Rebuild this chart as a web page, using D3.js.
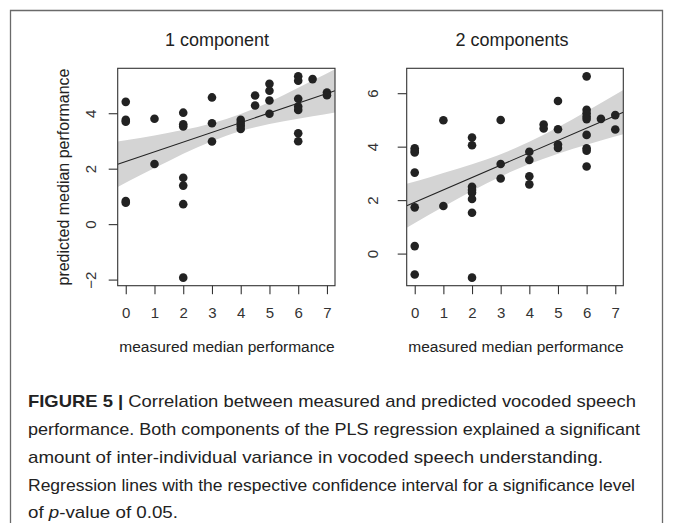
<!DOCTYPE html>
<html>
<head>
<meta charset="utf-8">
<script src="https://cdn.jsdelivr.net/npm/d3@7"></script>
<style>
  html, body { margin: 0; padding: 0; background: #fff; }
  svg { display: block; font-family: "Liberation Sans", Arial, sans-serif; }
</style>
</head>
<body>
<svg id="chart" width="673" height="523"></svg>
<script>
// ---------- data ----------
const xTicks = [0, 1, 2, 3, 4, 5, 6, 7];
const yTicks1 = [-2, 0, 2, 4];
const yTicks2 = [0, 2, 4, 6];

// Panel 1: "1 component" (measured, predicted)
const measured1  = [0, 0, 0, 0, 0,
                    1, 1,
                    2, 2, 2, 2, 2, 2, 2,
                    3, 3, 3,
                    4, 4, 4, 4,
                    4.5, 4.5,
                    5, 5, 5, 5,
                    6, 6, 6, 6, 6, 6, 6,
                    6.5,
                    7, 7];
const predicted1 = [4.41, 3.76, 3.69, 0.83, 0.77,
                    3.80, 2.17,
                    4.02, 3.60, 3.52, 1.67, 1.39, 0.72, -1.93,
                    4.57, 3.64, 2.98,
                    3.76, 3.65, 3.55, 3.43,
                    4.64, 4.28,
                    5.06, 4.81, 4.46, 3.98,
                    5.33, 5.17, 4.52, 4.24, 4.12, 3.28, 2.99,
                    5.23,
                    4.75, 4.65];
const fitLine1 = { x: [-0.28, 7.28], y: [2.16, 4.81] };
const bandX1     = [-0.28, 0.5, 1.5, 2.5, 3.5, 4.5, 5.5, 6.5, 7.28];
const bandUpper1 = [2.98, 3.11, 3.30, 3.50, 3.79, 4.18, 4.66, 5.18, 5.59];
const bandLower1 = [1.34, 1.76, 2.28, 2.77, 3.19, 3.49, 3.71, 3.89, 4.03];

// Panel 2: "2 components"
const measured2  = [0, 0, 0, 0, 0, 0, 0,
                    1, 1,
                    2, 2, 2, 2, 2, 2, 2, 2,
                    3, 3, 3,
                    4, 4, 4, 4,
                    4.5, 4.5,
                    5, 5, 5, 5,
                    6, 6, 6, 6, 6, 6, 6, 6, 6,
                    6.5,
                    7, 7];
const predicted2 = [3.94, 3.85, 3.78, 3.03, 1.73, 0.28, -0.78,
                    4.99, 1.78,
                    4.34, 4.05, 2.50, 2.38, 2.28, 2.04, 1.53, -0.90,
                    5.00, 3.35, 2.81,
                    3.81, 3.50, 2.89, 2.59,
                    4.83, 4.68,
                    5.71, 4.65, 4.08, 3.95,
                    6.63, 5.38, 5.25, 5.13, 5.03, 4.44, 3.94, 3.85, 3.26,
                    5.04,
                    5.18, 4.64];
const fitLine2 = { x: [-0.28, 7.28], y: [1.79, 5.29] };
const bandX2     = [-0.28, 0.5, 1.5, 2.5, 3.5, 4.5, 5.5, 6.5, 7.28];
const bandUpper2 = [2.61, 2.85, 3.17, 3.52, 3.94, 4.45, 5.02, 5.63, 6.12];
const bandLower2 = [0.97, 1.45, 2.05, 2.62, 3.13, 3.55, 3.91, 4.23, 4.46];

const titles = ["1 component", "2 components"];
const xTitle = "measured median performance";
const yTitle = "predicted median performance";
const captionBold = "FIGURE 5 |";
const captionLines = [
  " Correlation between measured and predicted vocoded speech",
  "performance. Both components of the PLS regression explained a significant",
  "amount of inter-individual variance in vocoded speech understanding.",
  "Regression lines with the respective confidence interval for a significance level",
  ["of ", "p", "-value of 0.05."]
];

// ---------- drawing ----------
const svg = d3.select("#chart");
const ink = "#222";

// outer frame (open at the bottom)
svg.append("path")
  .attr("d", "M10.5,523 L10.5,10.5 L662.5,10.5 L662.5,523")
  .attr("fill", "none").attr("stroke", "#6a6a6a").attr("stroke-width", 1.3);

function extendR(ext) { // R's default 4% axis extension
  const s = (ext[1] - ext[0]) * 0.04;
  return [ext[0] - s, ext[1] + s];
}

const panels = [
  { xs: measured1, ys: predicted1, fit: fitLine1, bx: bandX1, bu: bandUpper1, bl: bandLower1,
    yTicks: yTicks1, left: 117.7, right: 335, titleX: 217, xTitleX: 227, yLabX: 90.5, showY: true },
  { xs: measured2, ys: predicted2, fit: fitLine2, bx: bandX2, bu: bandUpper2, bl: bandLower2,
    yTicks: yTicks2, left: 406.7, right: 623.3, titleX: 512, xTitleX: 516, yLabX: 372, showY: false }
];
const plotTop = 68.3, plotBottom = 285.7;

panels.forEach((p, i) => {
  const x = d3.scaleLinear().domain(extendR(d3.extent(p.xs))).range([p.left, p.right]);
  const y = d3.scaleLinear().domain(extendR(d3.extent(p.ys))).range([plotBottom, plotTop]);
  const g = svg.append("g");

  const clipId = "clip" + i;
  g.append("clipPath").attr("id", clipId)
    .append("rect").attr("x", p.left).attr("y", plotTop)
    .attr("width", p.right - p.left).attr("height", plotBottom - plotTop);

  const inner = g.append("g").attr("clip-path", `url(#${clipId})`);

  // confidence band
  const bandData = p.bx.map((v, k) => ({ x: v, u: p.bu[k], l: p.bl[k] }));
  inner.append("path")
    .datum(bandData)
    .attr("d", d3.area().x(d => x(d.x)).y0(d => y(d.l)).y1(d => y(d.u)).curve(d3.curveMonotoneX))
    .attr("fill", "#d4d4d4");

  // regression line
  inner.append("line")
    .attr("x1", x(p.fit.x[0])).attr("y1", y(p.fit.y[0]))
    .attr("x2", x(p.fit.x[1])).attr("y2", y(p.fit.y[1]))
    .attr("stroke", ink).attr("stroke-width", 1.1);

  // points
  g.append("g").selectAll("circle")
    .data(p.xs.map((v, k) => [v, p.ys[k]]))
    .join("circle")
    .attr("cx", d => x(d[0])).attr("cy", d => y(d[1]))
    .attr("r", 4.3).attr("fill", ink);

  // box
  g.append("rect").attr("x", p.left).attr("y", plotTop)
    .attr("width", p.right - p.left).attr("height", plotBottom - plotTop)
    .attr("fill", "none").attr("stroke", "#333").attr("stroke-width", 1.1);

  // x axis (R style)
  const xa = g.append("g").attr("transform", `translate(0,${plotBottom})`)
    .call(d3.axisBottom(x).tickValues(xTicks).tickSize(8.5).tickFormat(d3.format("d")));
  xa.select(".domain").remove();
  xa.selectAll(".tick line").attr("stroke", "#333").attr("stroke-width", 1.1);
  xa.selectAll(".tick text").attr("fill", "#333").attr("font-size", 15)
    .attr("font-family", "Liberation Sans, Arial, sans-serif")
    .attr("y", 0).attr("dy", 0)
    .attr("transform", "translate(0,32)");

  // y axis (R style)
  const ya = g.append("g").attr("transform", `translate(${p.left},0)`)
    .call(d3.axisLeft(y).tickValues(p.yTicks).tickSize(9).tickFormat(d => d < 0 ? "\u2212" + Math.abs(d) : d));
  ya.select(".domain").remove();
  ya.selectAll(".tick line").attr("stroke", "#333").attr("stroke-width", 1.1);
  ya.selectAll(".tick text")
    .attr("fill", "#333").attr("font-size", 15)
    .attr("font-family", "Liberation Sans, Arial, sans-serif")
    .attr("x", 0).attr("dy", 0)
    .attr("text-anchor", "middle")
    .attr("dominant-baseline", "central")
    .attr("transform", `translate(${p.yLabX - p.left},0) rotate(-90)`);

  // titles
  g.append("text").attr("x", p.titleX).attr("y", 46)
    .attr("text-anchor", "middle").attr("font-size", 18).attr("fill", "#222")
    .text(titles[i]);
  g.append("text").attr("x", p.xTitleX).attr("y", 352)
    .attr("text-anchor", "middle").attr("font-size", 15.5).attr("fill", "#222")
    .text(xTitle);
  if (p.showY) {
    g.append("text")
      .attr("transform", `translate(63,${(plotTop + plotBottom) / 2}) rotate(-90)`)
      .attr("text-anchor", "middle").attr("dominant-baseline", "central")
      .attr("font-size", 16).attr("fill", "#222")
      .text(yTitle);
  }
});

// caption
const capX = 28;
const capBaselines = [407, 435, 463, 491, 518];
const capWidths = [608, 612, 575, 607, 150];
captionLines.forEach((line, k) => {
  const t = svg.append("text").attr("x", capX).attr("y", capBaselines[k])
    .attr("font-size", 17).attr("fill", "#222")
    .attr("textLength", capWidths[k]).attr("lengthAdjust", "spacingAndGlyphs");
  if (k === 0) {
    t.append("tspan").attr("font-weight", "bold").text(captionBold);
    t.append("tspan").text(line);
  } else if (Array.isArray(line)) {
    t.append("tspan").text(line[0]);
    t.append("tspan").attr("font-style", "italic").text(line[1]);
    t.append("tspan").text(line[2]);
  } else {
    t.text(line);
  }
});
</script>
</body>
</html>
